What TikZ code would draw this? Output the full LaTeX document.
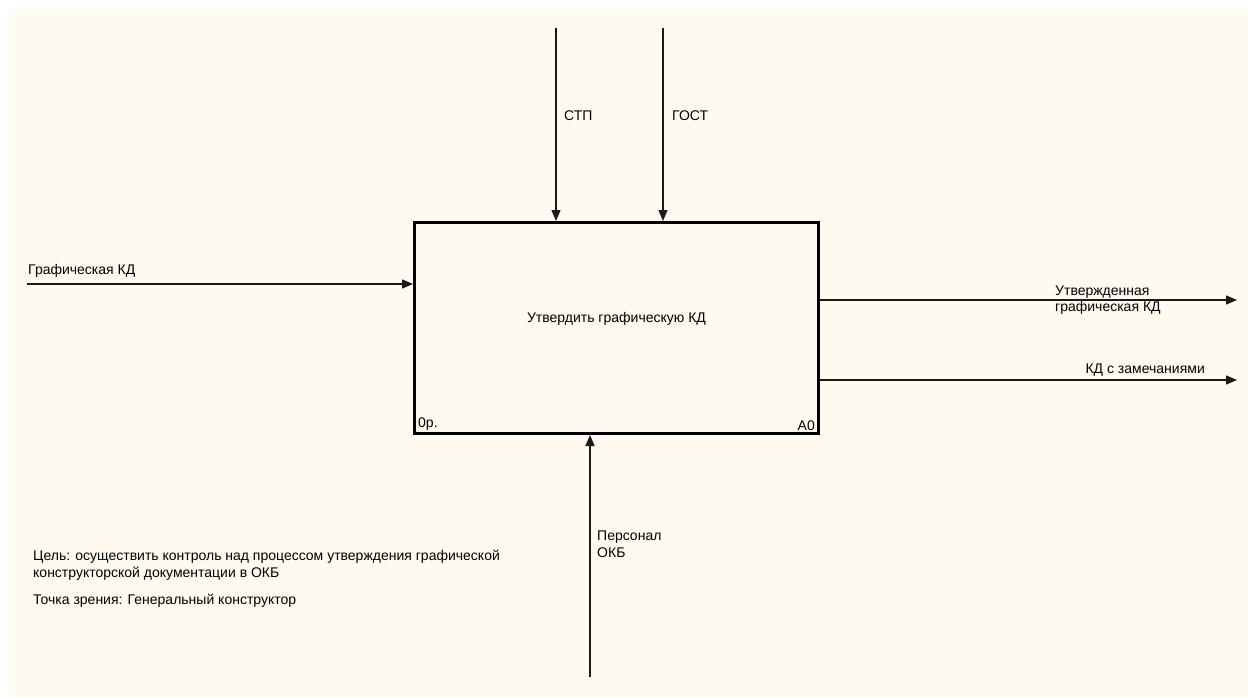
\documentclass[tikz,border=0pt]{standalone}
\usepackage{fontspec}
\setmainfont{Liberation Sans}
\usepackage{tikz}
\usetikzlibrary{arrows.meta,positioning}
\definecolor{idefbg}{HTML}{FFFAF0}
\definecolor{idefline}{HTML}{1A1A1A}
\tikzset{
  sheet/.style={fill=idefbg, draw=none},
  activity/.style={draw=black, line width=3pt, fill=idefbg, minimum width=404pt, minimum height=211pt, inner sep=0pt},
  flow/.style={draw=idefline, line width=1.4pt, -{Triangle[length=11pt,width=9pt]}},
  lbl/.style={font=\fontsize{14}{16.5}\selectfont, inner sep=0pt, align=left},
}
\begin{document}
\begin{tikzpicture}[x=1pt,y=-1pt]
\useasboundingbox (0,0) rectangle (1248,697);
\fill[white] (0,0) rectangle (1248,697);
\fill[sheet] (9,9) rectangle (1248,697);
% activity box
\node[activity] (act) at (616.5,328) {};
\node[lbl] (acttext) at (616.5,319) {Утвердить графическую КД};
\node[lbl, anchor=south west] (actnum) at (418,431) {0р.};
\node[lbl, anchor=south east] (actid) at (815,431) {А0};
% controls
\coordinate (stp) at (556,28);
\coordinate (gost) at (663,28);
\draw[flow] (stp) -- (stp |- act.north);
\draw[flow] (gost) -- (gost |- act.north);
\node[lbl, anchor=west] (stplbl) at (564,116) {СТП};
\node[lbl, anchor=west] (gostlbl) at (672,116) {ГОСТ};
% input
\coordinate (kdin) at (27,284);
\draw[flow] (kdin) -- (kdin -| act.west);
\node[lbl, anchor=west] (kdinlbl) at (28,271) {Графическая КД};
% outputs
\coordinate (okout) at (1237,300);
\coordinate (remout) at (1237,380);
\draw[flow] (act.east |- okout) -- (okout);
\draw[flow] (act.east |- remout) -- (remout);
\node[lbl, anchor=west] (okoutlbl) at (1055,300) {Утвержденная\\графическая КД};
\node[lbl, anchor=east] (remoutlbl) at (1205,370) {КД с замечаниями};
% mechanism
\coordinate (staff) at (590,677);
\draw[flow] (staff) -- (staff |- act.south);
\node[lbl, anchor=west] (stafflbl) at (597,544) {Персонал\\ОКБ};
% purpose and viewpoint
\node[lbl, anchor=west] (goal) at (33,565) {Цель: осуществить контроль над процессом утверждения графической\\конструкторской документации в ОКБ};
\node[lbl, anchor=west] (view) at (33,601) {Точка зрения: Генеральный конструктор};
\end{tikzpicture}
\end{document}
